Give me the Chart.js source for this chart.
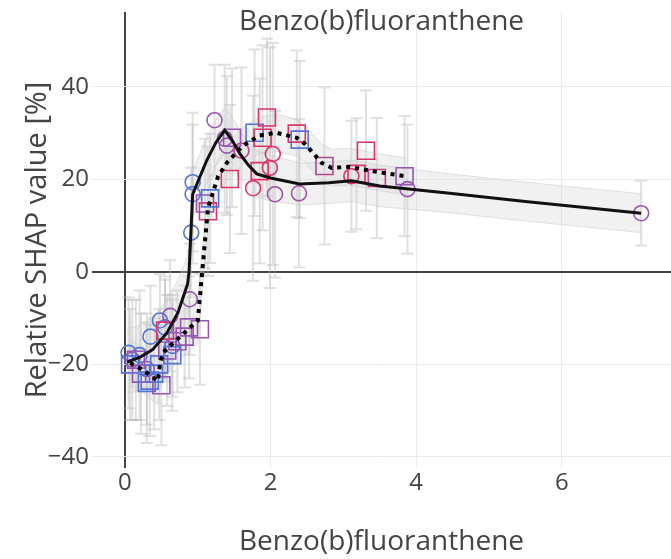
<!DOCTYPE html>
<html>
<head>
<meta charset="utf-8">
<script src="https://cdn.jsdelivr.net/npm/chart.js@4.4.1/dist/chart.umd.min.js"></script>
<style>
    html, body { margin: 0; padding: 0; background: #fff; }
    #wrap { width: 671px; height: 559px; }
</style>
</head>
<body>
<div id="wrap"><canvas id="shapChart" width="671" height="559"></canvas></div>
<script>
const chartTitle = 'Benzo(b)fluoranthene';
const xTitle = 'Benzo(b)fluoranthene';
const yTitle = 'Relative SHAP value [%]';
const xTicks = [0, 2, 4, 6];
const yTicks = [-40, -20, 0, 20, 40];

// smoothed trend (solid) with its band half-width
const solidX = [0.03, 0.2, 0.38, 0.58, 0.73, 0.86, 0.88, 0.93, 1.12, 1.25, 1.37, 1.47, 1.58, 1.7, 1.81, 2.0, 2.4, 2.8, 3.11, 3.5, 4.46, 5.5, 7.09];
const solidY = [-19.5, -18.5, -16.8, -13.1, -8.7, -2.6, 0, 16.8, 24, 28, 30.6, 28.5, 25.5, 23, 21.2, 20.3, 19.0, 19.3, 19.7, 18.6, 17.0, 15.2, 12.7];
const solidBand = [7, 7, 7, 7, 7, 6, 6, 5, 5, 5, 5, 5, 5, 5, 5, 5, 4.5, 4.5, 4.5, 4.5, 4.2, 4.2, 4.2];

// second trend (dotted)
const dottedX = [0.07, 0.25, 0.34, 0.45, 0.48, 0.52, 0.64, 0.82, 1.0, 1.14, 1.28, 1.40, 1.62, 1.85, 2.08, 2.36, 2.47, 2.58, 2.70, 2.84, 3.09, 3.47, 3.85];
const dottedY = [-19.7, -21.2, -22.3, -23.6, -20.1, -17.5, -15.7, -13.1, -10.5, 13.8, 20.7, 23.6, 27.3, 29.5, 30.1, 29.0, 27.7, 25.8, 23.6, 22.5, 22.7, 21.6, 20.7];
const dottedBand = [5, 5, 5, 5, 5, 5, 5, 5, 5, 4, 4, 4, 4, 4, 4, 4, 4, 4, 4, 4, 4, 4, 4];

// circle samples (tone: 0 blue .. 1 red)
const circleX = [0.05, 0.10, 0.20, 0.30, 0.35, 0.48, 0.55, 0.62, 0.65, 0.89, 0.91, 0.93, 0.93, 1.23, 1.37, 1.40, 1.60, 1.76, 1.99, 2.03, 2.06, 2.39, 3.11, 3.88, 7.09];
const circleY = [-17.5, -19, -18, -21, -14, -10.5, -12, -9.5, -16, -5.9, 8.5, 16.8, 19.4, 32.8, 28.8, 27.3, 26.2, 18.1, 22.5, 25.5, 16.8, 17.0, 20.7, 17.9, 12.7];
const circleErr = [12, 13, 14, 12, 11, 10, 11, 12, 11, 12, 14, 15, 15, 12, 16, 15, 18, 20, 26, 24, 18, 16, 12, 14, 7];
const circleTone = [0, 0.5, 0, 0.5, 0, 0, 0, 0.5, 0, 0.5, 0, 0, 0, 0.5, 0.5, 0.5, 0.8, 1, 1, 1, 0.6, 0.6, 1, 0.5, 0.5];

// square samples
const squareX = [0.07, 0.15, 0.22, 0.30, 0.34, 0.40, 0.47, 0.50, 0.55, 0.58, 0.65, 0.72, 0.82, 0.88, 1.03, 1.10, 1.14, 1.17, 1.44, 1.47, 1.78, 1.85, 1.89, 1.95, 2.36, 2.40, 2.74, 3.18, 3.31, 3.46, 3.84];
const squareY = [-20, -19, -22, -24, -23.5, -22, -20, -24.5, -12.7, -17, -18, -15, -14, -12, -12.4, 14.8, 13.1, 15.9, 20.1, 29.0, 30.1, 21.8, 29.0, 33.4, 29.9, 28.6, 22.9, 21.2, 26.2, 20.3, 20.7];
const squareErr = [12, 13, 13, 13, 12, 12, 12, 13, 11, 12, 12, 11, 11, 11, 12, 14, 14, 14, 16, 15, 18, 20, 20, 17, 18, 17, 17, 12, 13, 13, 13];
const squareTone = [0, 0.5, 0.5, 0, 0, 0, 0, 0.5, 1, 0.5, 0, 0.5, 0.5, 0.5, 0.5, 0.5, 1, 0, 1, 0.5, 0, 1, 1, 1, 1, 0, 0.7, 1, 1, 0.8, 0.5];

const FONT = "'Open Sans', 'DejaVu Sans', sans-serif";
const INK = '#444';

function toneColor(t) {
    const stops = [[84, 116, 214], [150, 84, 180], [220, 52, 100]];
    const s = t <= 0.5 ? 0 : 1;
    const f = t <= 0.5 ? t / 0.5 : (t - 0.5) / 0.5;
    const a = stops[s], b = stops[s + 1];
    const c = a.map((v, i) => Math.round(v + (b[i] - v) * f));
    return 'rgb(' + c.join(',') + ')';
}

const pts = (xs, ys) => xs.map((x, i) => ({ x: x, y: ys[i] }));
const shifted = (xs, ys, hw, sign) => xs.map((x, i) => ({ x: x, y: ys[i] + sign * hw[i] }));

// gray error bars under the markers
const errorBars = {
    id: 'errorBars',
    beforeDatasetsDraw(chart) {
        const { ctx, chartArea, scales: { x, y } } = chart;
        ctx.save();
        ctx.beginPath();
        ctx.rect(chartArea.left, chartArea.top, chartArea.right - chartArea.left, chartArea.bottom - chartArea.top);
        ctx.clip();
        ctx.strokeStyle = 'rgba(180,180,180,0.42)';
        ctx.lineWidth = 2;
        chart.data.datasets.forEach(ds => {
            if (!ds.errors) return;
            ds.data.forEach((p, i) => {
                const px = x.getPixelForValue(p.x);
                const top = y.getPixelForValue(p.y + ds.errors[i]);
                const bot = y.getPixelForValue(p.y - ds.errors[i]);
                ctx.beginPath();
                ctx.moveTo(px, top); ctx.lineTo(px, bot);
                ctx.moveTo(px - 6, top); ctx.lineTo(px + 6, top);
                ctx.moveTo(px - 6, bot); ctx.lineTo(px + 6, bot);
                ctx.stroke();
            });
        });
        ctx.restore();
    }
};

// plot title sits inside the top of the plot, plotly style
const topTitle = {
    id: 'topTitle',
    afterDraw(chart) {
        const { ctx, chartArea } = chart;
        ctx.save();
        ctx.font = '28px ' + FONT;
        ctx.fillStyle = INK;
        ctx.textAlign = 'center';
        ctx.textBaseline = 'middle';
        ctx.fillText(chartTitle, (chartArea.left + chartArea.right) / 2, 22);
        ctx.restore();
    }
};

const gridColor = ctx => ctx.tick && ctx.tick.value === 0 ? INK : '#ebebeb';
const gridWidth = ctx => ctx.tick && ctx.tick.value === 0 ? 2 : 1;
const minusSign = v => String(v).replace('-', '\u2212');

new Chart(document.getElementById('shapChart'), {
    type: 'scatter',
    data: {
        datasets: [{
            type: 'line',
            data: pts(dottedX, dottedY),
            borderColor: '#000',
            borderWidth: 4,
            borderDash: [4, 5],
            pointRadius: 0,
            fill: false,
            order: 0
        }, {
            type: 'line',
            data: pts(solidX, solidY),
            borderColor: '#111',
            borderWidth: 3,
            pointRadius: 0,
            fill: false,
            order: 1
        }, {
            data: pts(squareX, squareY),
            errors: squareErr,
            pointStyle: 'rect',
            pointRadius: 12,
            pointBorderWidth: 1.6,
            pointBackgroundColor: 'rgba(0,0,0,0)',
            pointBorderColor: squareTone.map(toneColor),
            order: 2
        }, {
            data: pts(circleX, circleY),
            errors: circleErr,
            pointStyle: 'circle',
            pointRadius: 7.5,
            pointBorderWidth: 1.6,
            pointBackgroundColor: 'rgba(0,0,0,0)',
            pointBorderColor: circleTone.map(toneColor),
            order: 3
        }, {
            type: 'line',
            data: shifted(solidX, solidY, solidBand, 1),
            borderColor: 'rgba(200,200,200,0.5)',
            borderWidth: 1,
            pointRadius: 0,
            fill: false,
            order: 4
        }, {
            type: 'line',
            data: shifted(solidX, solidY, solidBand, -1),
            borderColor: 'rgba(200,200,200,0.5)',
            borderWidth: 1,
            pointRadius: 0,
            fill: '-1',
            backgroundColor: 'rgba(210,210,210,0.3)',
            order: 5
        }, {
            type: 'line',
            data: shifted(dottedX, dottedY, dottedBand, 1),
            borderColor: 'rgba(200,200,200,0.5)',
            borderWidth: 1,
            pointRadius: 0,
            fill: false,
            order: 6
        }, {
            type: 'line',
            data: shifted(dottedX, dottedY, dottedBand, -1),
            borderColor: 'rgba(200,200,200,0.5)',
            borderWidth: 1,
            pointRadius: 0,
            fill: '-1',
            backgroundColor: 'rgba(210,210,210,0.3)',
            order: 7
        }]
    },
    options: {
        responsive: false,
        animation: false,
        events: [],
        layout: { autoPadding: false, padding: { top: 12, right: 0, bottom: 0, left: 0 } },
        plugins: {
            legend: { display: false },
            tooltip: { enabled: false },
            title: { display: false }
        },
        scales: {
            x: {
                type: 'linear',
                min: -0.453,
                max: 7.5,
                afterBuildTicks: s => { s.ticks = xTicks.map(v => ({ value: v })); },
                afterFit: s => { s.height = 91; s.paddingLeft = 0; s.paddingRight = 0; },
                grid: { color: gridColor, lineWidth: gridWidth, drawTicks: false },
                border: { display: false },
                ticks: { color: INK, font: { family: FONT, size: 24 }, padding: 1, maxRotation: 0, callback: minusSign },
                title: { display: true, text: xTitle, color: INK, font: { family: FONT, size: 28 }, padding: { top: 0, bottom: 0 } }
            },
            y: {
                type: 'linear',
                min: -42.4,
                max: 56.2,
                afterBuildTicks: s => { s.ticks = yTicks.map(v => ({ value: v })); },
                afterFit: s => { s.width = 92; s.paddingTop = 0; s.paddingBottom = 0; },
                grid: { color: gridColor, lineWidth: gridWidth, drawTicks: false },
                border: { display: false },
                ticks: { color: INK, font: { family: FONT, size: 24 }, padding: 3, callback: minusSign },
                title: { display: true, text: yTitle, color: INK, font: { family: FONT, size: 29 }, padding: { top: 20, bottom: 0 } }
            }
        }
    },
    plugins: [errorBars, topTitle]
});
</script>
</body>
</html>
